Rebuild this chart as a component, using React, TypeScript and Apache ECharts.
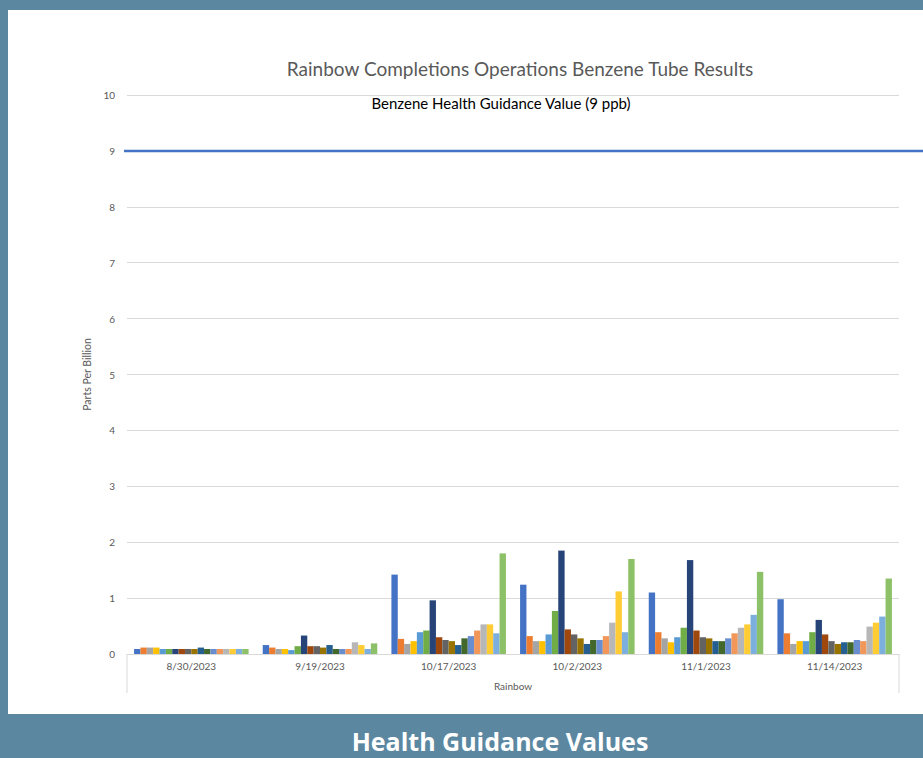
import React, { useEffect, useRef } from "react";
import * as echarts from "echarts";

const categories = ["8/30/2023", "9/19/2023", "10/17/2023", "10/2/2023", "11/1/2023", "11/14/2023"];

// 18 tube samples per date (ppb)
const tube01 = [0.09, 0.16, 1.42, 1.24, 1.10, 0.98];
const tube02 = [0.115, 0.115, 0.27, 0.32, 0.39, 0.37];
const tube03 = [0.115, 0.09, 0.18, 0.23, 0.28, 0.18];
const tube04 = [0.115, 0.09, 0.23, 0.23, 0.21, 0.23];
const tube05 = [0.09, 0.07, 0.39, 0.35, 0.30, 0.23];
const tube06 = [0.09, 0.14, 0.42, 0.77, 0.47, 0.39];
const tube07 = [0.09, 0.33, 0.96, 1.85, 1.68, 0.61];
const tube08 = [0.09, 0.14, 0.30, 0.44, 0.42, 0.35];
const tube09 = [0.09, 0.14, 0.25, 0.35, 0.30, 0.23];
const tube10 = [0.09, 0.115, 0.23, 0.28, 0.28, 0.18];
const tube11 = [0.115, 0.16, 0.16, 0.18, 0.23, 0.21];
const tube12 = [0.09, 0.09, 0.28, 0.25, 0.23, 0.21];
const tube13 = [0.09, 0.09, 0.32, 0.25, 0.28, 0.25];
const tube14 = [0.09, 0.09, 0.42, 0.32, 0.37, 0.23];
const tube15 = [0.09, 0.21, 0.53, 0.56, 0.47, 0.49];
const tube16 = [0.09, 0.16, 0.53, 1.12, 0.53, 0.56];
const tube17 = [0.09, 0.09, 0.37, 0.39, 0.70, 0.67];
const tube18 = [0.09, 0.19, 1.80, 1.70, 1.47, 1.35];

const seriesValues = [
  tube01, tube02, tube03, tube04, tube05, tube06,
  tube07, tube08, tube09, tube10, tube11, tube12,
  tube13, tube14, tube15, tube16, tube17, tube18,
];

const seriesNames = seriesValues.map((_, i) => `Tube ${i + 1}`);

const palette = [
  "#4472C4", "#ED7D31", "#A5A5A5", "#FFC000", "#5B9BD5", "#70AD47",
  "#264478", "#9E480E", "#636363", "#997300", "#255E91", "#43682B",
  "#698ED0", "#F1975A", "#B7B7B7", "#FFCD33", "#7CAFDD", "#8CC168",
];

const yTicks = [0, 1, 2, 3, 4, 5, 6, 7, 8, 9, 10];
const guidanceValue = 9;

const W = 923;
const H = 758;
const FONT = "Lato, 'Liberation Sans', sans-serif";
const GRID = { left: 127, right: 24, top: 95, bottom: 104 };

export default function App() {
  const ref = useRef<HTMLDivElement>(null);

  useEffect(() => {
    if (!ref.current) return;
    const chart = echarts.init(ref.current, null, { renderer: "svg", width: W, height: H });

    const baseGraphic: any[] = [
      {
        type: "rect",
        z: -100,
        silent: true,
        shape: { x: 8, y: 10, width: W - 8, height: 704 },
        style: { fill: "#ffffff" },
      },
      {
        type: "text",
        x: 520,
        y: 68,
        style: {
          text: "Rainbow Completions Operations Benzene Tube Results",
          fill: "#595959",
          font: `19px ${FONT}`,
          textAlign: "center",
          textVerticalAlign: "middle",
        },
      },
      {
        type: "text",
        x: 501,
        y: 103,
        style: {
          text: "Benzene Health Guidance Value (9 ppb)",
          fill: "#000000",
          font: `15px ${FONT}`,
          textAlign: "center",
          textVerticalAlign: "middle",
        },
      },
      {
        type: "line",
        shape: { x1: GRID.left, y1: H - GRID.bottom, x2: GRID.left, y2: 693 },
        style: { stroke: "#d9d9d9", lineWidth: 1 },
      },
      {
        type: "line",
        shape: { x1: W - GRID.right, y1: H - GRID.bottom, x2: W - GRID.right, y2: 693 },
        style: { stroke: "#d9d9d9", lineWidth: 1 },
      },
      {
        type: "text",
        x: 500,
        y: 741,
        style: {
          text: "Health Guidance Values",
          fill: "#ffffff",
          font: `bold 25px 'Open Sans', ${FONT}`,
          textAlign: "center",
          textVerticalAlign: "middle",
        },
      },
    ];

    chart.setOption({
      animation: false,
      backgroundColor: "#5b87a1",
      color: palette,
      textStyle: { fontFamily: FONT },
      grid: { ...GRID, containLabel: false },
      xAxis: {
        type: "category",
        data: categories,
        name: "Rainbow",
        nameLocation: "middle",
        nameGap: 27,
        nameTextStyle: { color: "#595959", fontSize: 10, fontFamily: FONT },
        axisLine: { lineStyle: { color: "#d9d9d9" } },
        axisTick: { show: false },
        axisLabel: { color: "#595959", fontSize: 10, margin: 7 },
      },
      yAxis: {
        type: "value",
        min: yTicks[0],
        max: yTicks[yTicks.length - 1],
        interval: 1,
        name: "Parts Per Billion",
        nameLocation: "middle",
        nameGap: 33,
        nameTextStyle: { color: "#595959", fontSize: 10.5, fontFamily: FONT },
        axisLine: { show: false },
        axisTick: { show: false },
        axisLabel: { color: "#595959", fontSize: 10, margin: 12 },
        splitLine: { lineStyle: { color: "#d9d9d9" } },
      },
      series: seriesValues.map((vals, i) => ({
        type: "bar",
        name: seriesNames[i],
        data: vals,
        barGap: "0%",
        barCategoryGap: "11%",
      })),
      graphic: baseGraphic,
    });

    const y9 = chart.convertToPixel({ yAxisIndex: 0 }, guidanceValue) as number;
    chart.setOption({
      graphic: [
        ...baseGraphic,
        {
          type: "line",
          z: 10,
          shape: { x1: 124, y1: y9, x2: W, y2: y9 },
          style: { stroke: "#4472C4", lineWidth: 2.5 },
        },
      ],
    });

    return () => chart.dispose();
  }, []);

  return (
    <div
      ref={ref}
      style={{ position: "fixed", left: 0, top: 0, width: W, height: H }}
    />
  );
}
